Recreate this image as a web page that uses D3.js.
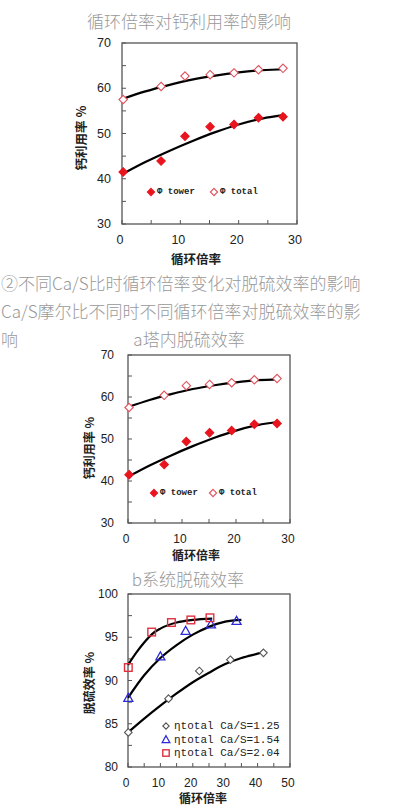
<!DOCTYPE html>
<html><head><meta charset="utf-8">
<script src="https://cdn.jsdelivr.net/npm/d3@7"></script>
<style>body{margin:0;background:#fff}svg{display:block}</style>
</head><body>
<script>
// ---- Chart 1 & 2 (same data): calcium utilisation vs circulation ratio
const ratioX = [0.2, 6.7, 10.8, 15.1, 19.2, 23.4, 27.6];
const phiTower = [41.5, 43.9, 49.4, 51.5, 52.0, 53.5, 53.7];
const phiTotal = [57.5, 60.4, 62.7, 63.0, 63.4, 64.1, 64.4];
const fitX12 = [0, 4, 8, 12, 16, 20, 24, 28];
const fitTower = [41.0, 43.7, 46.1, 48.3, 50.3, 52.0, 53.3, 54.1];
const fitTotal = [57.6, 59.3, 60.7, 61.9, 62.8, 63.5, 64.0, 64.2];
const xTicks12 = [0, 10, 20, 30];
const yTicks12 = [30, 40, 50, 60, 70];

// ---- Chart 3: system desulfurisation efficiency
const x125 = [0.1, 12.5, 22.0, 31.6, 41.8];
const eta125 = [84.0, 87.9, 91.1, 92.4, 93.2];
const x154 = [0.1, 10.0, 17.8, 25.6, 33.5];
const eta154 = [88.0, 92.8, 95.75, 96.5, 96.9];
const x204 = [0.1, 7.3, 13.4, 19.4, 25.3];
const eta204 = [91.5, 95.6, 96.7, 97.0, 97.25];
const fitX125 = [0, 5, 10, 15, 20, 25, 30, 35, 40, 42];
const fit125 = [84.0, 85.6, 87.1, 88.5, 89.8, 90.9, 91.9, 92.6, 93.1, 93.3];
const fitX154 = [0, 5, 10, 15, 20, 25, 30, 35];
const fit154 = [88.0, 90.6, 92.6, 94.1, 95.3, 96.2, 96.8, 97.0];
const fitX204 = [0, 2.5, 5, 7.5, 10, 15, 20, 26];
const fit204 = [91.8, 93.2, 94.4, 95.4, 96.0, 96.7, 97.0, 97.15];
const xTicks3 = [0, 10, 20, 30, 40, 50];
const yTicks3 = [80, 85, 90, 95, 100];

const svg = d3.select("body").append("svg").attr("width", 393).attr("height", 808);

const grayFont = "'Noto Sans CJK SC', 'Noto Sans', sans-serif";
const axisFont = "'Liberation Sans', Arial, sans-serif";
const monoFont = "'Liberation Mono', 'DejaVu Sans Mono', monospace";

function gtext(x, y, s, size, anchor) {
  svg.append("text").attr("x", x).attr("y", y).attr("font-family", grayFont)
    .attr("font-size", size).attr("font-weight", 300).attr("fill", "#999").attr("text-anchor", anchor || "start")
    .attr("dominant-baseline", "central").text(s);
}

function diamond(g, x, y, r, fill, stroke) {
  g.append("path").attr("d", `M${x},${y - r}L${x + r},${y}L${x},${y + r}L${x - r},${y}Z`)
    .attr("fill", fill).attr("stroke", stroke).attr("stroke-width", 1.1);
}
function triangle(g, x, y, r, stroke) {
  g.append("path").attr("d", `M${x},${y - r}L${x + r},${y + r * 0.8}L${x - r},${y + r * 0.8}Z`)
    .attr("fill", "none").attr("stroke", stroke).attr("stroke-width", 1.3);
}
function square(g, x, y, r, stroke) {
  g.append("rect").attr("x", x - r).attr("y", y - r).attr("width", 2 * r).attr("height", 2 * r)
    .attr("fill", "none").attr("stroke", stroke).attr("stroke-width", 1.4);
}

function frame(cfg) {
  const x = d3.scaleLinear().domain(cfg.xd).range([cfg.l, cfg.r]);
  const y = d3.scaleLinear().domain(cfg.yd).range([cfg.b, cfg.t]);
  const g = svg.append("g");
  g.append("rect").attr("x", cfg.l).attr("y", cfg.t).attr("width", cfg.r - cfg.l).attr("height", cfg.b - cfg.t)
    .attr("fill", "none").attr("stroke", "#555").attr("stroke-width", 1.3);
  const xs = d3.range(cfg.xd[0], cfg.xd[1] + 0.01, cfg.xstep / 2);
  const ys = d3.range(cfg.yd[0], cfg.yd[1] + 0.01, cfg.ystep / 2);
  xs.forEach(v => g.append("line").attr("x1", x(v)).attr("x2", x(v)).attr("y1", cfg.b).attr("y2", cfg.b - 4).attr("stroke", "#555"));
  ys.forEach(v => g.append("line").attr("x1", cfg.l).attr("x2", cfg.l + 4).attr("y1", y(v)).attr("y2", y(v)).attr("stroke", "#555"));
  cfg.xt.forEach(v => g.append("text").attr("x", x(v) - 2).attr("y", cfg.b + 16).attr("text-anchor", "middle")
    .attr("dominant-baseline", "central").attr("font-family", axisFont).attr("font-size", cfg.fs).attr("fill", "#222").text(v));
  cfg.yt.forEach(v => g.append("text").attr("x", cfg.l - cfg.ygap).attr("y", y(v)).attr("text-anchor", "end")
    .attr("dominant-baseline", "central").attr("font-family", axisFont).attr("font-size", cfg.fs).attr("fill", "#222").text(v));
  g.append("text").attr("x", cfg.xtx).attr("y", cfg.xty).attr("text-anchor", "middle").attr("dominant-baseline", "central")
    .attr("font-family", grayFont).attr("font-size", cfg.tfs).attr("font-weight", 600).attr("fill", "#222").text("循环倍率");
  g.append("text").attr("transform", `translate(${cfg.ytx},${cfg.yty}) rotate(-90)`).attr("text-anchor", "middle")
    .attr("dominant-baseline", "central").attr("font-family", grayFont).attr("font-size", cfg.tfs).attr("font-weight", 600)
    .attr("fill", "#222").text(cfg.ytitle);
  return { x, y, g };
}

function curve(c, xs, ys) {
  const line = d3.line().x((d, i) => c.x(xs[i])).y(d => c.y(d)).curve(d3.curveMonotoneX);
  c.g.append("path").attr("d", line(ys)).attr("fill", "none").attr("stroke", "#000").attr("stroke-width", 2.2);
}

const red = "#e8141e", pink = "#e0505c";

function utilChart(cfg) {
  const c = frame(cfg);
  curve(c, fitX12, fitTower);
  curve(c, fitX12, fitTotal);
  ratioX.forEach((v, i) => diamond(c.g, c.x(v), c.y(phiTower[i]), 4.2, red, red));
  ratioX.forEach((v, i) => diamond(c.g, c.x(v), c.y(phiTotal[i]), 4.2, "#fff", pink));
  diamond(c.g, cfg.lg[0], cfg.lg[1], 3.6, red, red);
  c.g.append("text").attr("x", cfg.lg[0] + 6).attr("y", cfg.lg[1]).attr("dominant-baseline", "central")
    .attr("font-family", monoFont).attr("font-size", 9).attr("font-weight", "bold").attr("fill", "#222").text("Φ tower");
  diamond(c.g, cfg.lg[2], cfg.lg[1], 3.6, "#fff", pink);
  c.g.append("text").attr("x", cfg.lg[2] + 6).attr("y", cfg.lg[1]).attr("dominant-baseline", "central")
    .attr("font-family", monoFont).attr("font-size", 9).attr("font-weight", "bold").attr("fill", "#222").text("Φ total");
}

// ---- titles and paragraph text
gtext(189, 20, "循环倍率对钙利用率的影响", 17, "middle");
gtext(1, 282, "②不同Ca/S比时循环倍率变化对脱硫效率的影响", 17);
gtext(1, 310, "Ca/S摩尔比不同时不同循环倍率对脱硫效率的影", 17);
gtext(1, 338, "响", 17);
gtext(189, 338, "a塔内脱硫效率", 17, "middle");
gtext(188, 578, "b系统脱硫效率", 17, "middle");

utilChart({ l: 122, r: 297, t: 43, b: 224, xd: [0, 30], yd: [30, 70], xstep: 10, ystep: 10,
  xt: xTicks12, yt: yTicks12, fs: 12.5, ygap: 11, tfs: 12.5, xtx: 196, xty: 258, ytx: 80, yty: 138,
  ytitle: "钙利用率 %", lg: [151, 192, 214] });

utilChart({ l: 128, r: 290, t: 355, b: 523, xd: [0, 30], yd: [30, 70], xstep: 10, ystep: 10,
  xt: xTicks12, yt: yTicks12, fs: 12, ygap: 14, tfs: 12, xtx: 196, xty: 554, ytx: 88, yty: 448,
  ytitle: "钙利用率 %", lg: [154, 493, 213] });

// ---- chart 3
(function () {
  const c = frame({ l: 128, r: 290, t: 594, b: 767, xd: [0, 50], yd: [80, 100], xstep: 10, ystep: 5,
    xt: xTicks3, yt: yTicks3, fs: 12, ygap: 10, tfs: 12, xtx: 203, xty: 797, ytx: 88, yty: 683,
    ytitle: "脱硫效率 %" });
  curve(c, fitX125, fit125);
  curve(c, fitX154, fit154);
  curve(c, fitX204, fit204);
  const blk = "#555", blue = "#2a2ad8", sq = "#e03040";
  x125.forEach((v, i) => diamond(c.g, c.x(v), c.y(eta125[i]), 3.8, "#fff", blk));
  x154.forEach((v, i) => triangle(c.g, c.x(v), c.y(eta154[i]), 4.5, blue));
  x204.forEach((v, i) => square(c.g, c.x(v), c.y(eta204[i]), 3.8, sq));
  const rows = [["ηtotal Ca/S=1.25", 726], ["ηtotal Ca/S=1.54", 739.5], ["ηtotal Ca/S=2.04", 753]];
  diamond(c.g, 166, rows[0][1], 3.2, "#fff", blk);
  triangle(c.g, 166, rows[1][1], 3.8, blue);
  square(c.g, 166, rows[2][1], 3.2, sq);
  rows.forEach(r => c.g.append("text").attr("x", 174).attr("y", r[1]).attr("dominant-baseline", "central")
    .attr("font-family", monoFont).attr("font-size", 11).attr("fill", "#222").text(r[0]));
})();
</script>
</body></html>
